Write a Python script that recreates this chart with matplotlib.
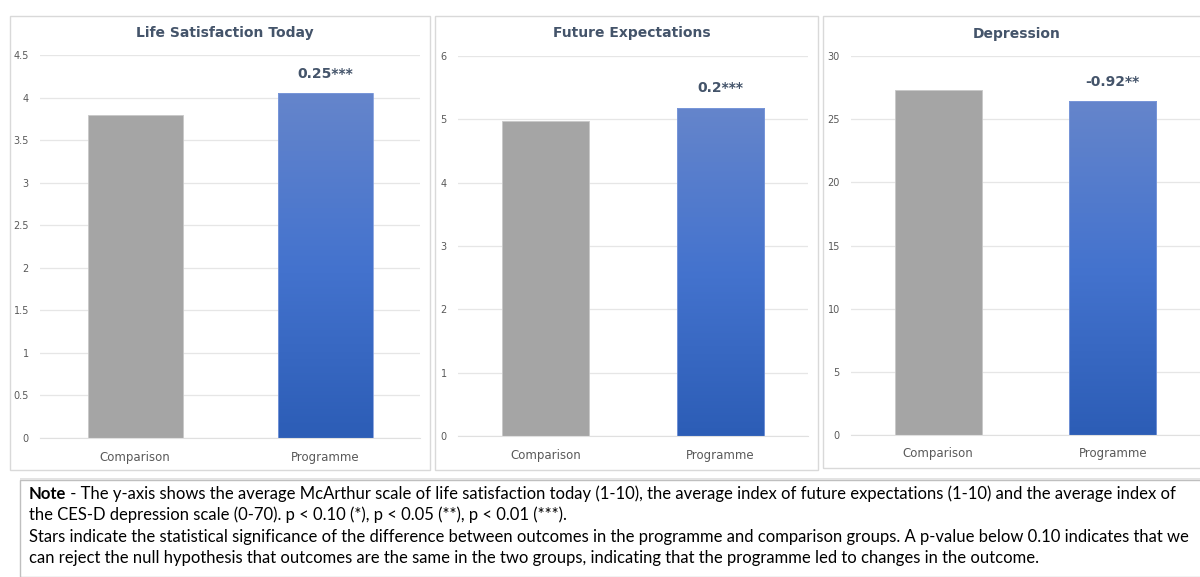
import numpy as np
import matplotlib
matplotlib.use("Agg")
import matplotlib.pyplot as plt
from matplotlib.patches import Rectangle
from matplotlib.colors import LinearSegmentedColormap

groups = ["Comparison", "Programme"]
titles = ["Life Satisfaction Today", "Future Expectations", "Depression"]
life_satisfaction = [3.80, 4.05]
future_expectations = [4.98, 5.18]
depression = [27.32, 26.40]
effect_labels = ["0.25***", "0.2***", "-0.92**"]
y_limits = [4.5, 6, 30]
y_ticks = [
    [0, 0.5, 1, 1.5, 2, 2.5, 3, 3.5, 4, 4.5],
    [0, 1, 2, 3, 4, 5, 6],
    [0, 5, 10, 15, 20, 25, 30],
]
note_lines = [
    "the CES-D depression scale (0-70). p < 0.10 (*), p < 0.05 (**), p < 0.01 (***).",
    "Stars indicate the statistical significance of the difference between outcomes in the programme and comparison groups. A p-value below 0.10 indicates that we",
    "can reject the null hypothesis that outcomes are the same in the two groups, indicating that the programme led to changes in the outcome.",
]
note_first = (" - The y-axis shows the average McArthur scale of life satisfaction today (1-10), "
              "the average index of future expectations (1-10) and the average index of")

W, H = 1200, 577
fig = plt.figure(figsize=(W / 100, H / 100), dpi=100)
fig.patch.set_facecolor("white")

def fx(px):
    return px / W

def fy(py):
    return 1 - py / H

# panel frames (pixel boxes: left, top, right, bottom)
frames = [(10, 16, 430, 470), (435, 16, 818, 470), (823, 16, 1205, 468)]
for l, t, r, b in frames:
    fig.add_artist(Rectangle((fx(l), fy(b)), fx(r - l), (b - t) / H,
                             transform=fig.transFigure, facecolor="none",
                             edgecolor="#D9D9D9", linewidth=1.0))

# plot areas (left, top(ymax), right, bottom(y=0))
areas = [(40, 55, 420, 438), (458, 56, 808, 436), (851, 56, 1200, 435)]
title_y = [33, 33, 34]
series = [life_satisfaction, future_expectations, depression]

blue_cmap = LinearSegmentedColormap.from_list("blue_grad", ["#2C5DB6", "#4473CE", "#6585CB"])
gray = "#A5A5A5"
title_color = "#44546A"
tick_color = "#595959"

for i, (l, t, r, b) in enumerate(areas):
    ax = fig.add_axes([fx(l), fy(b), fx(r - l), (b - t) / H])
    vals = series[i]
    x = np.arange(len(groups))
    bars = ax.bar(x, vals, width=0.5, color=[gray, "none"], zorder=2,
                  edgecolor=["#C8C8C8", "#7D9ADB"], linewidth=0.6)
    # gradient fill for programme bar
    pb = bars[1]
    grad = np.linspace(0, 1, 256).reshape(-1, 1)
    im = ax.imshow(grad, cmap=blue_cmap, origin="lower", aspect="auto",
                   extent=[pb.get_x(), pb.get_x() + pb.get_width(), 0, pb.get_height()],
                   zorder=1.9)
    im.set_clip_path(pb)
    ax.set_xlim(-0.5, 1.5)
    ax.set_ylim(0, y_limits[i])
    ax.set_yticks(y_ticks[i])
    ax.set_yticklabels([f"{v:g}" for v in y_ticks[i]])
    ax.set_xticks(x)
    ax.set_xticklabels(groups)
    ax.tick_params(axis="y", length=0, labelsize=7, labelcolor=tick_color, pad=8)
    ax.tick_params(axis="x", length=0, labelsize=8.5, labelcolor=tick_color, pad=9)
    ax.grid(axis="y", color="#E6E6E6", linewidth=0.9, zorder=0)
    ax.set_axisbelow(True)
    for s in ax.spines.values():
        s.set_visible(False)
    ax.spines["bottom"].set_visible(True)
    ax.spines["bottom"].set_color("#E0E0E0")
    ax.annotate(effect_labels[i], xy=(1, vals[1]), xytext=(0, 9),
                textcoords="offset points", ha="center", va="bottom",
                fontsize=10, fontweight="bold", color=title_color)
    fl, ft, fr, fb = frames[i]
    fig.text(fx((fl + min(fr, 1200)) / 2 + 5), fy(title_y[i]), titles[i],
             ha="center", va="center", fontsize=10, fontweight="bold", color=title_color)

# note box
fig.add_artist(Rectangle((fx(20), 0), fx(1200), (H - 480) / H,
                         transform=fig.transFigure, facecolor="none",
                         edgecolor="#BFBFBF", linewidth=1.0))
fig.add_artist(Rectangle((fx(20), fy(480)), fx(1185), 2.5 / H,
                         transform=fig.transFigure, facecolor="#E3E3E3",
                         edgecolor="none"))

note_font = ["Lato", "DejaVu Sans"]
line_y = [494, 515, 537, 558]
first_line_width = 1148  # pixels from the left margin to the end of line one

def draw_note(size):
    texts = []
    t0 = fig.text(fx(29), fy(line_y[0]), "Note", ha="left", va="center",
                  fontsize=size, fontweight="bold", family=note_font, color="black")
    fig.canvas.draw()
    bb = t0.get_window_extent()
    t1 = fig.text(bb.x1 / W, fy(line_y[0]), note_first, ha="left", va="center",
                  fontsize=size, family=note_font, color="black")
    texts += [t0, t1]
    for yy, line in zip(line_y[1:], note_lines):
        texts.append(fig.text(fx(29), fy(yy), line, ha="left", va="center",
                              fontsize=size, family=note_font, color="black"))
    fig.canvas.draw()
    return texts, t1.get_window_extent().x1 - 29

size = 11
texts, width = draw_note(size)
for t in texts:
    t.remove()
size = size * first_line_width / width
draw_note(size)

fig.savefig("out.png", dpi=100)
